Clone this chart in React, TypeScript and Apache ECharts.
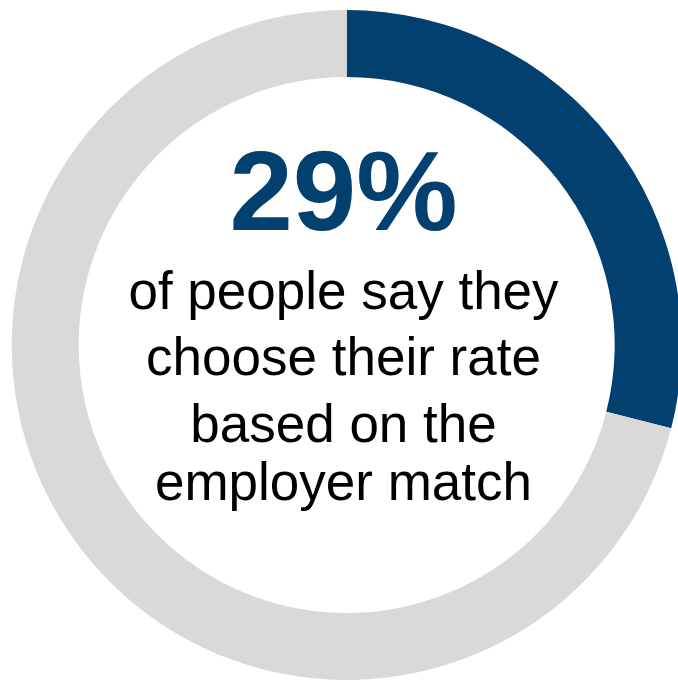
import React, { useEffect, useRef } from "react";
import * as echarts from "echarts";

// Share of respondents who pick their contribution rate from the employer match
const SEGMENT_NAMES = ["Employer match", "Other reasons"];
const SEGMENT_VALUES = [29, 71];
const SEGMENT_COLORS = ["#01406F", "#D9D9D9"];
const CAPTION_LINES = [
  "of people say they",
  "choose their rate",
  "based on the",
  "employer match",
];

const FONT = '"Liberation Sans", Arial, Helvetica, sans-serif';

export default function App() {
  const ref = useRef<HTMLDivElement>(null);

  useEffect(() => {
    if (!ref.current) return;
    const chart = echarts.init(ref.current, null, { renderer: "svg" });

    const cx = 346.7;
    const total = SEGMENT_VALUES.reduce((a, b) => a + b, 0);
    const pct = Math.round((SEGMENT_VALUES[0] / total) * 100);
    const lineY = [290, 356.5, 423, 481.5];

    chart.setOption({
      animation: false,
      backgroundColor: "#ffffff",
      series: [
        {
          type: "pie",
          center: [cx, 345],
          radius: [268, 335],
          startAngle: 90,
          clockwise: true,
          silent: true,
          label: { show: false },
          labelLine: { show: false },
          data: SEGMENT_NAMES.map((name, i) => ({
            name,
            value: SEGMENT_VALUES[i],
            itemStyle: { color: SEGMENT_COLORS[i] },
          })),
        },
      ],
      graphic: [
        {
          type: "text",
          x: 343.5,
          y: 190.8,
          style: {
            text: `${pct}%`,
            font: `bold 114px ${FONT}`,
            fill: SEGMENT_COLORS[0],
            align: "center",
            verticalAlign: "middle",
          },
        },
        ...CAPTION_LINES.map((line, i) => ({
          type: "text",
          x: 343.5,
          y: lineY[i],
          style: {
            text: line,
            font: `53px ${FONT}`,
            fill: "#000000",
            align: "center",
            verticalAlign: "middle",
          },
        })),
      ],
    });

    return () => chart.dispose();
  }, []);

  return (
    <div
      ref={ref}
      style={{ position: "absolute", left: 0, top: 0, width: 678, height: 681 }}
    />
  );
}
